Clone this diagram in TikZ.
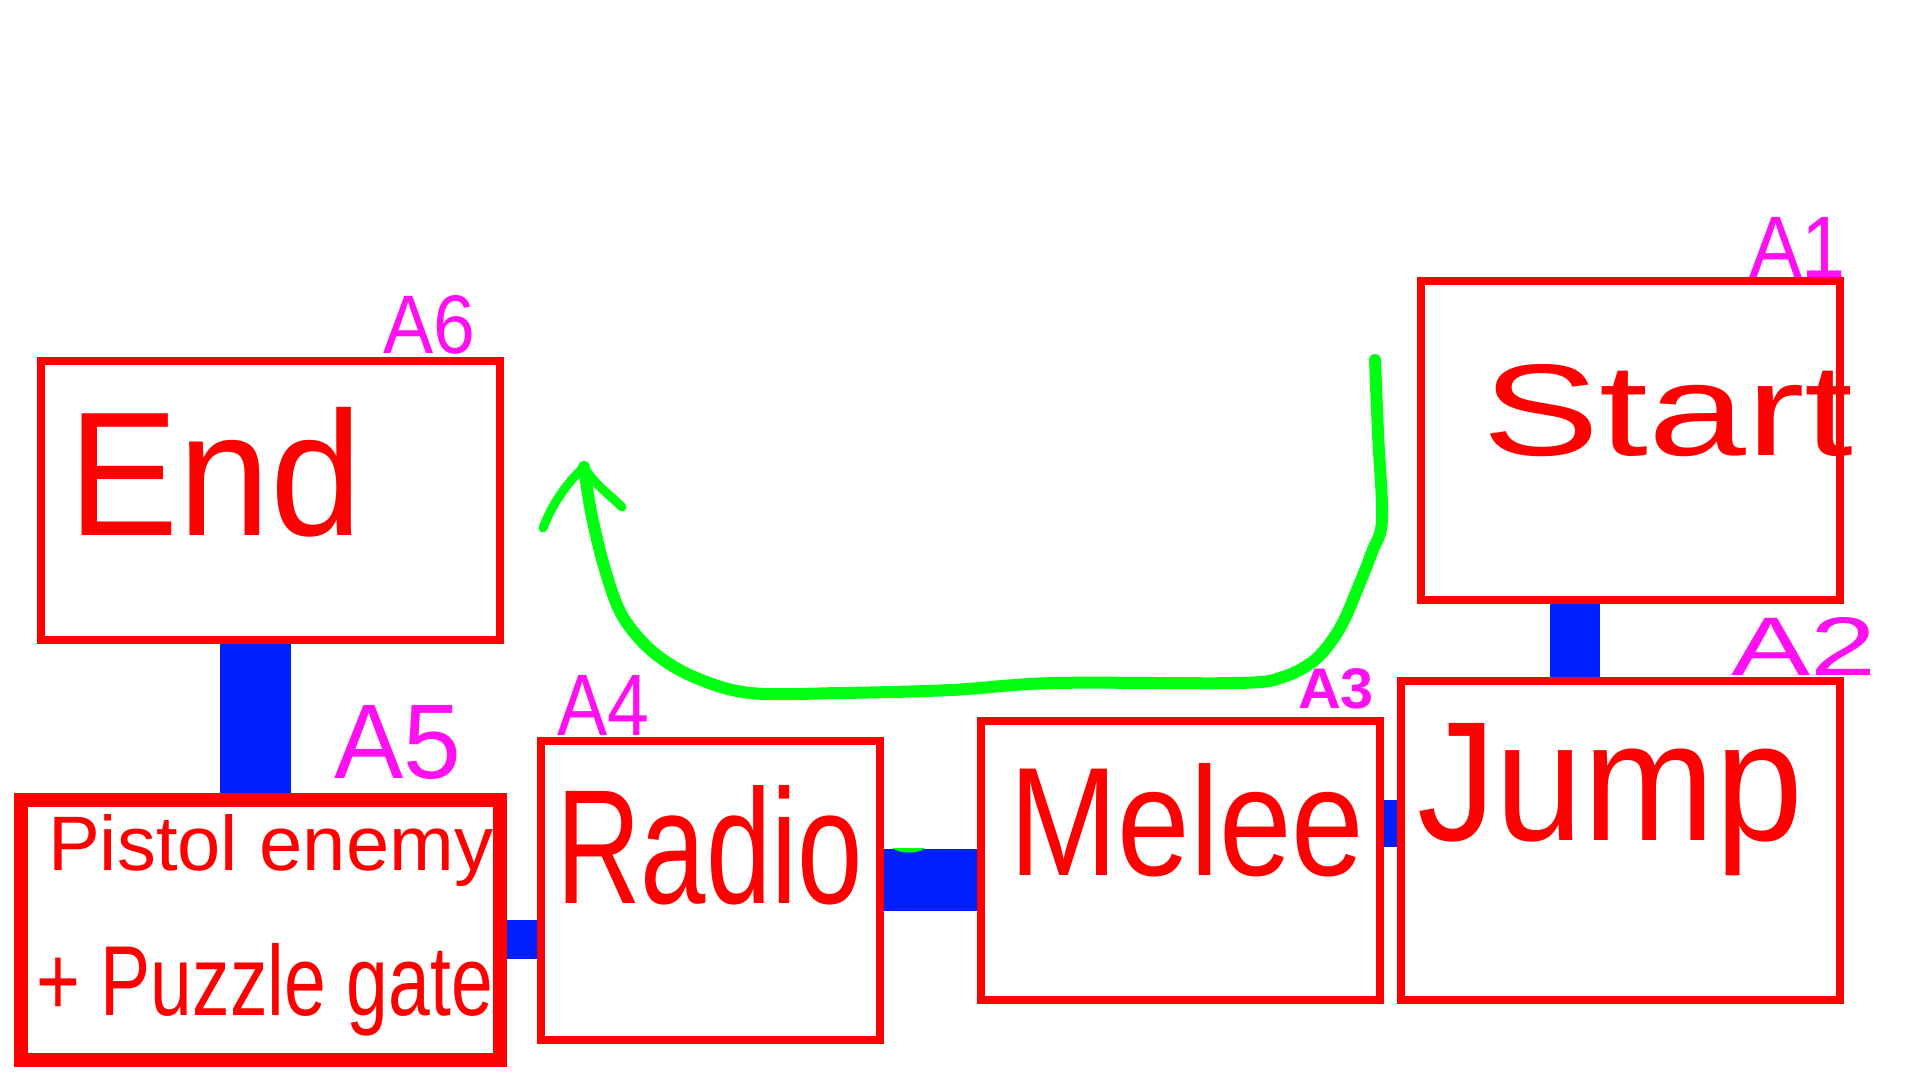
\documentclass[tikz,border=0pt]{standalone}
\usepackage{fontspec}
\setmainfont{Liberation Sans}
\usepackage{graphicx}
\usetikzlibrary{calc}
\pgfdeclarelayer{canvas}
\pgfdeclarelayer{background}
\pgfsetlayers{canvas,background,main}
\definecolor{boxred}{RGB}{255,0,0}
\definecolor{barblue}{RGB}{0,32,255}
\definecolor{arrowgreen}{RGB}{0,255,16}
\definecolor{tagmag}{RGB}{255,16,240}
\newcommand{\fitbox}[3]{\resizebox{#1pt}{#2pt}{#3}}
\begin{document}
\begin{tikzpicture}[x=1pt,y=-1pt,
 roombox/.style={draw=boxred, line width=8pt, rectangle, inner sep=0pt, outer sep=0pt},
 bar/.style={draw=barblue},
 txt/.style={inner sep=0pt, outer sep=0pt, text=boxred, anchor=base west},
 tag/.style={inner sep=0pt, outer sep=0pt, text=tagmag, anchor=base west},
 flow/.style={draw=arrowgreen, line width=12pt, line cap=round, line join=round}]
\useasboundingbox (0,0) rectangle (1920,1080);
\begin{pgfonlayer}{canvas}
\fill[white] (0,0) rectangle (1920,1080);
\end{pgfonlayer}

% rooms
\node[roombox, minimum width=459pt, minimum height=279pt] (endroom) at (270.5,500.5) {};
\node[roombox, line width=14pt, minimum width=479pt, minimum height=260pt] (pistol) at (260.5,930) {};
\node[roombox, minimum width=339pt, minimum height=299pt] (radio) at (710.5,890.5) {};
\node[roombox, minimum width=399pt, minimum height=279pt] (melee) at (1180.5,860.5) {};
\node[roombox, minimum width=439pt, minimum height=319pt] (jump) at (1620.5,840.5) {};
\node[roombox, minimum width=419pt, minimum height=319pt] (start) at (1630.5,440.5) {};

% connectors
\coordinate (b1x) at (255.5,0);
\coordinate (b2y) at (0,939.5);
\coordinate (b3y) at (0,880);
\coordinate (b4y) at (0,823.5);
\coordinate (b5x) at (1575,0);
\begin{pgfonlayer}{background}
\draw[bar, line width=71pt] (endroom.south -| b1x) -- (pistol.north -| b1x);
\draw[bar, line width=39pt] (pistol.east |- b2y) -- (radio.west |- b2y);
\draw[bar, line width=62pt] (radio.east |- b3y) -- (melee.west |- b3y);
\draw[bar, line width=47pt] (melee.east |- b4y) -- (jump.west |- b4y);
\draw[bar, line width=50pt] (start.south -| b5x) -- (jump.north -| b5x);
\end{pgfonlayer}
\fill[arrowgreen] (893,848) .. controls (898,854) and (920,854) .. (925,848) -- cycle;

% room texts
\node[txt] (endtxt) at (68,535) {\fitbox{294}{128}{End}};
\node[txt] (pistoltxt) at (48,870) {\fitbox{445}{56}{Pistol enemy}};
\node[txt] (gatetxt) at (36,1015) {\fitbox{457}{72}{+ Puzzle gate}};
\node[txt] (radiotxt) at (556,903) {\fitbox{307}{118}{Radio}};
\node[txt] (meleetxt) at (1009,875) {\fitbox{355}{112}{Melee}};
\node[txt] (jumptxt) at (1417,840) {\fitbox{386}{117}{Jump}};
\node[txt] (starttxt) at (1482,455) {\fitbox{371}{91}{Start}};

% area tags
\node[tag] (tagA6) at (383,353) {\fitbox{92}{58}{A6}};
\node[tag] (tagA5) at (334,778) {\fitbox{127}{73}{A5}};
\node[tag] (tagA4) at (557,735) {\fitbox{92}{60}{A4}};
\node[tag] (tagA3) at (1298,708) {\fitbox{76}{40}{\bfseries A3}};
\node[tag] (tagA2) at (1731,675) {\fitbox{145}{58}{A2}};
\node[tag] (tagA1) at (1749,277) {\fitbox{97}{60}{A1}};

% green flow arrow
\coordinate (gstart) at (1375,360);
\coordinate (gtip) at (584,467);
\draw[flow] plot[smooth, tension=0.55] coordinates {(gstart) (1378,433) (1382,520) (1372,552) (1357,590) (1340,628) (1316,659) (1283,677) (1238,683) (1054,683) (951,690) (841,693) (750,693) (694,677) (653,652) (623,617) (606,573) (592,517) (gtip)};
\draw[flow, line width=9pt] (gtip) .. controls (565,485) and (552,505) .. (543,528);
\draw[flow, line width=9pt] (gtip) .. controls (595,485) and (610,495) .. (622,507);
\end{tikzpicture}
\end{document}
